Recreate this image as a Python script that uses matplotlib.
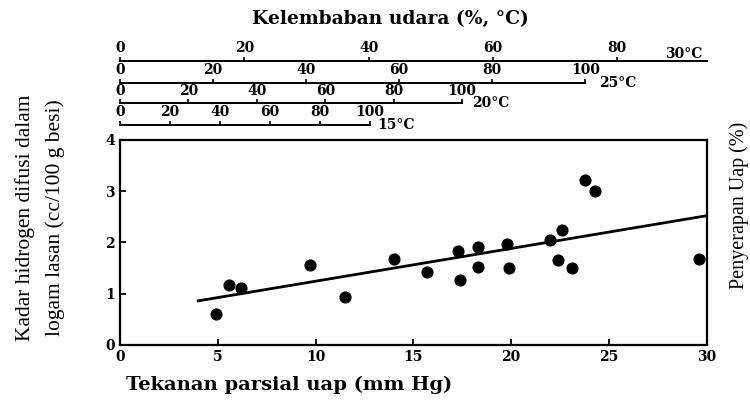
import numpy as np
import matplotlib
matplotlib.use('Agg')
import matplotlib.pyplot as plt

plt.rcParams['font.family'] = ['DejaVu Serif']
plt.rcParams['font.weight'] = 'bold'

# measured points: vapour partial pressure (mm Hg) vs diffusible hydrogen
tekanan = [4.9, 5.6, 6.2, 9.7, 11.5, 14.0, 15.7, 17.3, 17.4, 18.3, 18.3,
           19.8, 19.9, 22.0, 22.6, 22.4, 23.1, 23.8, 24.3, 29.6]
hidrogen = [0.60, 1.17, 1.12, 1.56, 0.93, 1.68, 1.43, 1.84, 1.27, 1.92, 1.52,
            1.97, 1.50, 2.04, 2.25, 1.65, 1.50, 3.21, 3.00, 1.68]

# regression line end points
garis_x = [4.0, 30.0]
garis_y = [0.86, 2.52]

# humidity scales: temperature, saturation pressure (mm Hg), tick labels
suhu = ['30°C', '25°C', '20°C', '15°C']
p_jenuh = [31.8, 23.8, 17.5, 12.8]
rh_ticks = [[0, 20, 40, 60, 80],
            [0, 20, 40, 60, 80, 100],
            [0, 20, 40, 60, 80, 100],
            [0, 20, 40, 60, 80, 100]]

serif_sempit = ['Liberation Serif', 'DejaVu Serif']

fig = plt.figure(figsize=(7.5, 4.03), dpi=100)
L, R, B, T = 0.16, 0.942, 0.144, 0.653
ax = fig.add_axes([L, B, R - L, T - B])

ax.scatter(tekanan, hidrogen, s=60, color='black', zorder=3)
ax.plot(garis_x, garis_y, color='black', lw=2)

ax.set_xlim(0, 30)
ax.set_ylim(0, 4)
ax.set_xticks([0, 5, 10, 15, 20, 25, 30])
ax.set_yticks([0, 1, 2, 3, 4])
ax.tick_params(direction='in', length=4, width=1.3, labelsize=10)
for s in ax.spines.values():
    s.set_linewidth(1.6)

fig.text(0.385, 0.045, 'Tekanan parsial uap (mm Hg)', ha='center', va='center',
         fontsize=14)
fig.text(0.034, 0.46, 'Kadar hidrogen difusi dalam', rotation=90,
         ha='center', va='center', fontsize=15.5, weight='normal',
         family=serif_sempit)
fig.text(0.073, 0.46, 'logam lasan (cc/100 g besi)', rotation=90,
         ha='center', va='center', fontsize=15.5, weight='normal',
         family=serif_sempit)
fig.text(0.985, 0.49, 'Penyerapan Uap (%)', rotation=90, ha='center',
         va='center', fontsize=14.5, weight='normal', family=serif_sempit)
fig.text(0.52, 0.952, 'Kelembaban udara (%, °C)', ha='center', va='center',
         fontsize=13.5)

# humidity scale axes above the main plot
y_garis = [0.849, 0.794, 0.744, 0.690]
for t, p, ticks, yy in zip(suhu, p_jenuh, rh_ticks, y_garis):
    frac = min(p / 30.0, 1.0)
    hx = fig.add_axes([L, yy, (R - L) * frac, 0.0001])
    hx.set_xlim(0, 100 * 30.0 / p if p > 30 else 100)
    hx.set_ylim(0, 1)
    for k in ['left', 'right', 'bottom']:
        hx.spines[k].set_visible(False)
    hx.spines['top'].set_linewidth(1.4)
    hx.set_yticks([])
    hx.xaxis.tick_top()
    hx.set_xticks(ticks)
    hx.tick_params(axis='x', direction='out', length=3, width=1.2,
                   labelsize=10, pad=1)
    hx.patch.set_visible(False)
    if p > 30:
        hx.text(0.93, 6, t, transform=hx.transAxes, fontsize=10,
                ha='left', va='bottom')
    else:
        hx.text(1.03, -1, t, transform=hx.transAxes, fontsize=10,
                ha='left', va='center')

fig.savefig('out.png', dpi=100)
